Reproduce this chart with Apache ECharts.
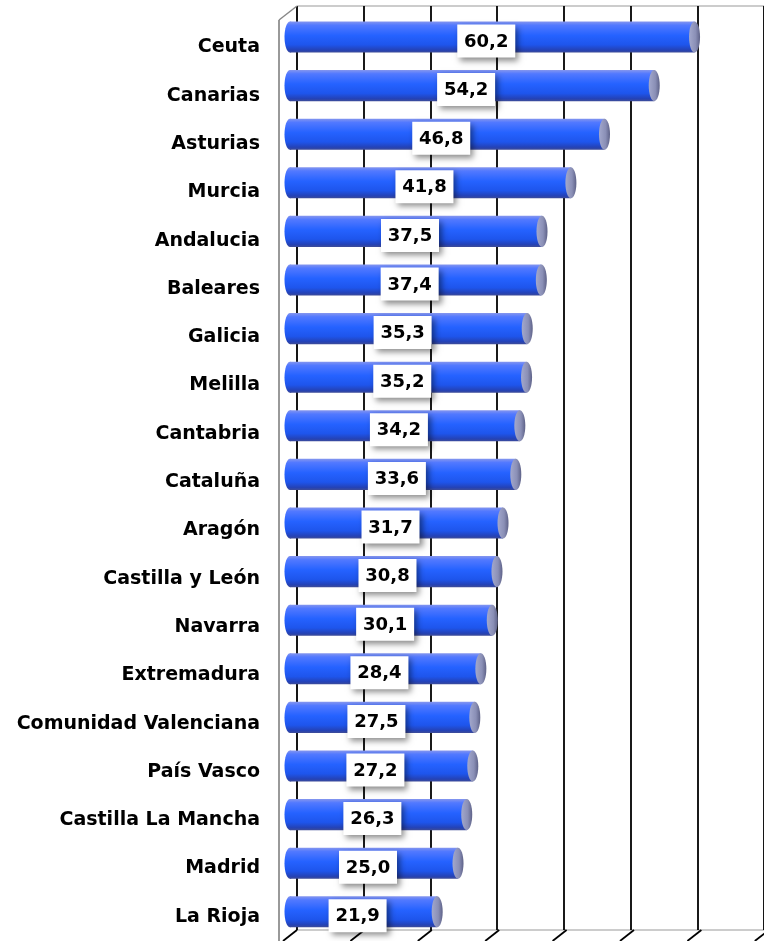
<!DOCTYPE html>
<html>
<head>
<meta charset="utf-8">
<script src="https://cdn.jsdelivr.net/npm/echarts@6/dist/echarts.min.js"></script>
<style>
html,body{margin:0;padding:0;background:#fff;}
#chart{width:764px;height:941px;}
</style>
</head>
<body>
<div id="chart"></div>
<script>
// ---- data ----
var categories = ['Ceuta','Canarias','Asturias','Murcia','Andalucia','Baleares','Galicia','Melilla','Cantabria','Cataluña','Aragón','Castilla y León','Navarra','Extremadura','Comunidad Valenciana','País Vasco','Castilla La Mancha','Madrid','La Rioja'];
var values = [60.2,54.2,46.8,41.8,37.5,37.4,35.3,35.2,34.2,33.6,31.7,30.8,30.1,28.4,27.5,27.2,26.3,25.0,21.9];
var axisMin = 0, axisMax = 70, axisStep = 10;

var FONT = '"DejaVu Sans", Verdana, sans-serif';
var chart = echarts.init(document.getElementById('chart'), null, {renderer:'canvas'});

function fmt(v){ return v.toFixed(1).replace('.', ','); }

var bodyGrad = {type:'linear', x:0, y:0, x2:0, y2:1, colorStops:[
  {offset:0, color:'#8596ee'},
  {offset:0.12, color:'#5279ff'},
  {offset:0.45, color:'#2562ff'},
  {offset:0.75, color:'#1e55ec'},
  {offset:0.92, color:'#2442b6'},
  {offset:1, color:'#3e4c98'}
]};
var capGrad = {type:'linear', x:0, y:0, x2:1, y2:0, colorStops:[
  {offset:0, color:'#a3a8cc'},
  {offset:0.6, color:'#8a8fb6'},
  {offset:1, color:'#5e6288'}
]};

// frame decorations (3D box edges)
var backLeft = 297, backBottom = 930, backTop = 6, step = 67.4, depthX = 14, depthY = 11, wallX = 279;
var deco = [];
deco.push({type:'line', shape:{x1:wallX, y1:20, x2:wallX, y2:941}, style:{stroke:'#777', lineWidth:1.5}, z:1});
deco.push({type:'line', shape:{x1:wallX, y1:20, x2:backLeft, y2:backTop}, style:{stroke:'#888', lineWidth:1.5}, z:1});
for (var i = 0; i <= 7; i++) {
  var bx = backLeft + i*step;
  deco.push({type:'line', shape:{x1:bx, y1:backBottom, x2:bx-depthX, y2:backBottom+depthY}, style:{stroke:'#000', lineWidth:1.8}, z:1});
}

var option = {
  backgroundColor:'#fff',
  animation:false,
  graphic: deco,
  grid:[
    {left:backLeft, right:-4.8, top:backTop, bottom:941-backBottom, show:true, borderColor:'#999', borderWidth:1, backgroundColor:'transparent'},
    {left:290, right:3.6, top:12.7, bottom:4.9},
    {left:290, right:3.6, top:23.2, bottom:-5.6}
  ],
  xAxis:[
    {gridIndex:0, type:'value', min:axisMin, max:axisMax, interval:axisStep,
     axisLine:{show:false}, axisTick:{show:false}, axisLabel:{show:false},
     splitLine:{show:true, lineStyle:{color:'#000', width:1.8}}},
    {gridIndex:1, type:'value', min:axisMin, max:axisMax, interval:axisStep, show:false},
    {gridIndex:2, type:'value', min:axisMin, max:axisMax, interval:axisStep, show:false}
  ],
  yAxis:[
    {gridIndex:0, type:'value', show:false, splitLine:{show:false}},
    {gridIndex:1, type:'category', data:categories, inverse:true, show:false},
    {gridIndex:2, type:'category', data:categories, inverse:true,
     axisLine:{show:false}, axisTick:{show:false}, splitLine:{show:false},
     axisLabel:{color:'#000', fontFamily:FONT, fontWeight:'bold', fontSize:19, margin:30}}
  ],
  series:[{
    type:'custom',
    xAxisIndex:1, yAxisIndex:1,
    clip:false,
    data: values.map(function(v,i){ return [v, i]; }),
    encode:{x:0, y:1},
    renderItem:function(params, api){
      var v = api.value(0);
      var s = api.coord([0, api.value(1)]);
      var e = api.coord([v, api.value(1)]);
      var h = api.size([0,1])[1] * 0.64;
      var cy = s[1];
      var rx = 5.5;
      var mid = (s[0] + e[0]) / 2 - 6;
      var ly = cy + 4;
      return {type:'group', children:[
        {type:'ellipse', shape:{cx:s[0], cy:cy, rx:rx, ry:h/2}, style:{fill:bodyGrad}},
        {type:'rect', shape:{x:s[0], y:cy-h/2, width:e[0]-s[0], height:h}, style:{fill:bodyGrad}},
        {type:'ellipse', shape:{cx:e[0], cy:cy, rx:rx, ry:h/2}, style:{fill:capGrad}},
        {type:'rect', shape:{x:mid-29, y:ly-16.5, width:58, height:33},
         style:{fill:'#fff', shadowBlur:6, shadowColor:'rgba(0,0,0,0.45)', shadowOffsetX:3, shadowOffsetY:3}},
        {type:'text', x:mid, y:ly+1, style:{text:fmt(v), align:'center', verticalAlign:'middle', textAlign:'center', textVerticalAlign:'middle',
          font:'bold 18px ' + FONT, fill:'#000'}}
      ]};
    }
  }]
};
chart.setOption(option);
</script>
</body>
</html>
